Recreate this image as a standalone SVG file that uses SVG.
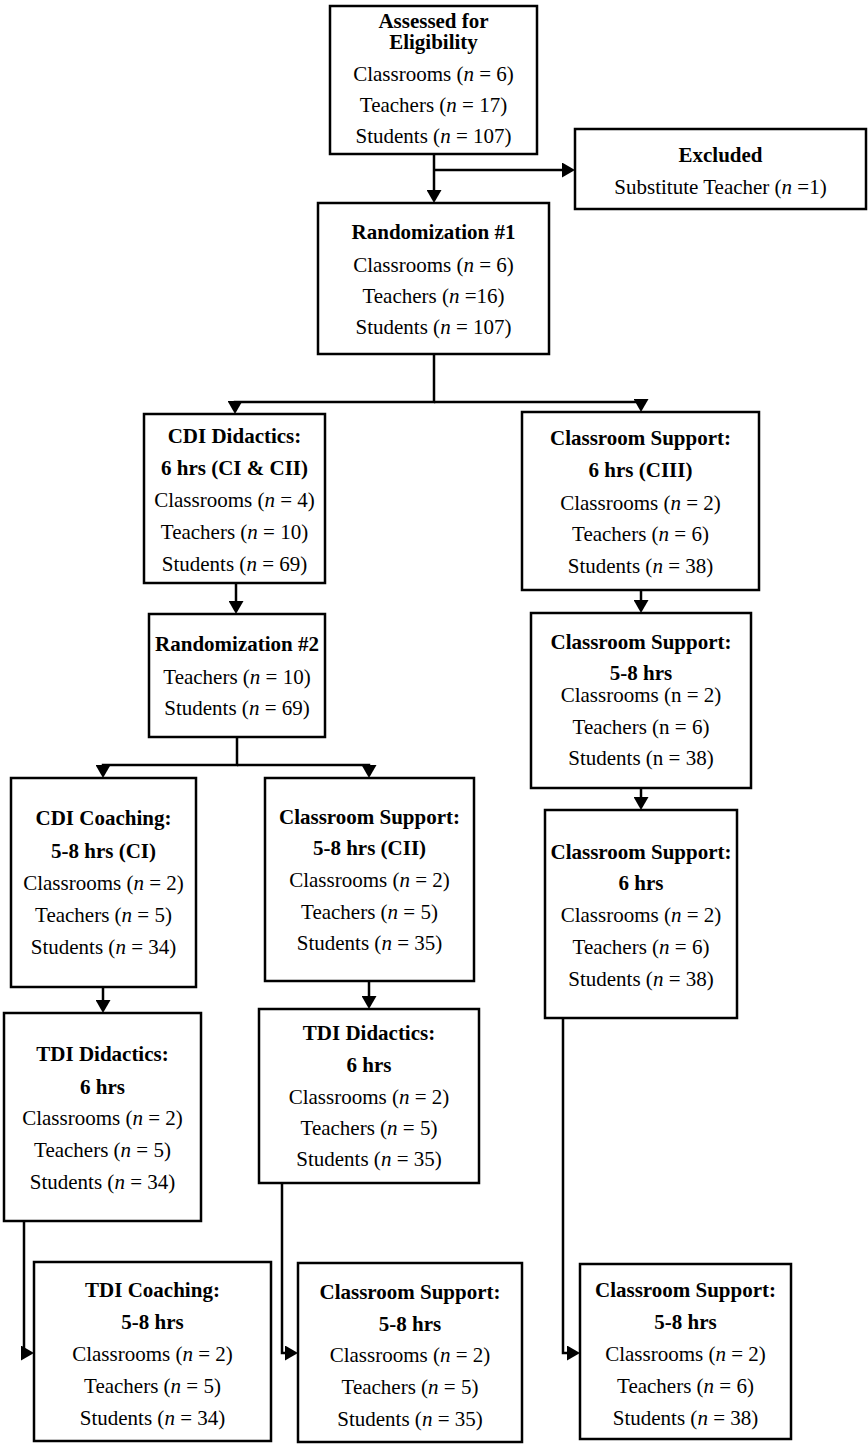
<svg xmlns="http://www.w3.org/2000/svg" width="868" height="1446" viewBox="0 0 868 1446">
<style>
.box{fill:#fff;stroke:#000;stroke-width:2.5}
.t{font-family:"Liberation Serif","Times New Roman",serif;font-size:21px;text-anchor:middle;fill:#000}
.b{font-weight:bold}
.i{font-style:italic}
.c{fill:none;stroke:#000;stroke-width:2.5}
</style>
<defs>
<marker id="ah" markerUnits="userSpaceOnUse" markerWidth="14" markerHeight="15" refX="5" refY="7.5" orient="auto" viewBox="0 0 14 15">
<path d="M0,0 L13,7.5 L0,15 z" fill="#000"/>
</marker>
</defs>
<rect width="868" height="1446" fill="#fff"/>
<g id="connectors">
<path class="c" d="M434,154 V195" marker-end="url(#ah)"/>
<path class="c" d="M434,170 H567" marker-end="url(#ah)"/>
<path class="c" d="M434,354 V402 H235 V406" marker-end="url(#ah)"/>
<path class="c" d="M434,402 H641 V404" marker-end="url(#ah)"/>
<path class="c" d="M236,583 V606" marker-end="url(#ah)"/>
<path class="c" d="M237,737 V765 H103 V770" marker-end="url(#ah)"/>
<path class="c" d="M237,765 H369 V770" marker-end="url(#ah)"/>
<path class="c" d="M103,987 V1005" marker-end="url(#ah)"/>
<path class="c" d="M369,981 V1001" marker-end="url(#ah)"/>
<path class="c" d="M24,1221 V1353 H26" marker-end="url(#ah)"/>
<path class="c" d="M282,1183 V1353 H290" marker-end="url(#ah)"/>
<path class="c" d="M641,590 V605" marker-end="url(#ah)"/>
<path class="c" d="M641,788 V802" marker-end="url(#ah)"/>
<path class="c" d="M563,1018 V1353 H572" marker-end="url(#ah)"/>
</g>
<g id="assessed">
<rect class="box" x="330" y="6" width="207" height="148"/>
<text class="t b" x="433.5" y="28">Assessed for</text>
<text class="t b" x="433.5" y="49">Eligibility</text>
<text class="t" x="433.5" y="81">Classrooms (<tspan class="i">n</tspan> = 6)</text>
<text class="t" x="433.5" y="112">Teachers (<tspan class="i">n</tspan> = 17)</text>
<text class="t" x="433.5" y="143">Students (<tspan class="i">n</tspan> = 107)</text>
</g>
<g id="excluded">
<rect class="box" x="575" y="129" width="291" height="80"/>
<text class="t b" x="720.5" y="162">Excluded</text>
<text class="t" x="720.5" y="194">Substitute Teacher (<tspan class="i">n</tspan> =1)</text>
</g>
<g id="rand1">
<rect class="box" x="318" y="203" width="231" height="151"/>
<text class="t b" x="433.5" y="239">Randomization #1</text>
<text class="t" x="433.5" y="272">Classrooms (<tspan class="i">n</tspan> = 6)</text>
<text class="t" x="433.5" y="303">Teachers (<tspan class="i">n</tspan> =16)</text>
<text class="t" x="433.5" y="334">Students (<tspan class="i">n</tspan> = 107)</text>
</g>
<g id="cdi-didactics">
<rect class="box" x="144" y="414" width="181" height="169"/>
<text class="t b" x="234.5" y="443">CDI Didactics:</text>
<text class="t b" x="234.5" y="475">6 hrs (CI &amp; CII)</text>
<text class="t" x="234.5" y="507">Classrooms (<tspan class="i">n</tspan> = 4)</text>
<text class="t" x="234.5" y="539">Teachers (<tspan class="i">n</tspan> = 10)</text>
<text class="t" x="234.5" y="571">Students (<tspan class="i">n</tspan> = 69)</text>
</g>
<g id="rand2">
<rect class="box" x="149" y="614" width="176" height="123"/>
<text class="t b" x="237" y="651">Randomization #2</text>
<text class="t" x="237" y="684">Teachers (<tspan class="i">n</tspan> = 10)</text>
<text class="t" x="237" y="715">Students (<tspan class="i">n</tspan> = 69)</text>
</g>
<g id="cdi-coaching">
<rect class="box" x="11" y="778" width="185" height="209"/>
<text class="t b" x="103.5" y="825">CDI Coaching:</text>
<text class="t b" x="103.5" y="858">5-8 hrs (CI)</text>
<text class="t" x="103.5" y="890">Classrooms (<tspan class="i">n</tspan> = 2)</text>
<text class="t" x="103.5" y="922">Teachers (<tspan class="i">n</tspan> = 5)</text>
<text class="t" x="103.5" y="954">Students (<tspan class="i">n</tspan> = 34)</text>
</g>
<g id="cs-cii">
<rect class="box" x="265" y="778" width="209" height="203"/>
<text class="t b" x="369.5" y="824">Classroom Support:</text>
<text class="t b" x="369.5" y="855">5-8 hrs (CII)</text>
<text class="t" x="369.5" y="887">Classrooms (<tspan class="i">n</tspan> = 2)</text>
<text class="t" x="369.5" y="919">Teachers (<tspan class="i">n</tspan> = 5)</text>
<text class="t" x="369.5" y="950">Students (<tspan class="i">n</tspan> = 35)</text>
</g>
<g id="tdi-didactics-1">
<rect class="box" x="4" y="1013" width="197" height="208"/>
<text class="t b" x="102.5" y="1061">TDI Didactics:</text>
<text class="t b" x="102.5" y="1094">6 hrs</text>
<text class="t" x="102.5" y="1125">Classrooms (<tspan class="i">n</tspan> = 2)</text>
<text class="t" x="102.5" y="1157">Teachers (<tspan class="i">n</tspan> = 5)</text>
<text class="t" x="102.5" y="1189">Students (<tspan class="i">n</tspan> = 34)</text>
</g>
<g id="tdi-didactics-2">
<rect class="box" x="259" y="1009" width="220" height="174"/>
<text class="t b" x="369" y="1040">TDI Didactics:</text>
<text class="t b" x="369" y="1072">6 hrs</text>
<text class="t" x="369" y="1104">Classrooms (<tspan class="i">n</tspan> = 2)</text>
<text class="t" x="369" y="1135">Teachers (<tspan class="i">n</tspan> = 5)</text>
<text class="t" x="369" y="1166">Students (<tspan class="i">n</tspan> = 35)</text>
</g>
<g id="tdi-coaching">
<rect class="box" x="34" y="1262" width="237" height="179"/>
<text class="t b" x="152.5" y="1297">TDI Coaching:</text>
<text class="t b" x="152.5" y="1329">5-8 hrs</text>
<text class="t" x="152.5" y="1361">Classrooms (<tspan class="i">n</tspan> = 2)</text>
<text class="t" x="152.5" y="1393">Teachers (<tspan class="i">n</tspan> = 5)</text>
<text class="t" x="152.5" y="1425">Students (<tspan class="i">n</tspan> = 34)</text>
</g>
<g id="cs-mid-bottom">
<rect class="box" x="298" y="1263" width="224" height="179"/>
<text class="t b" x="410" y="1299">Classroom Support:</text>
<text class="t b" x="410" y="1331">5-8 hrs</text>
<text class="t" x="410" y="1362">Classrooms (<tspan class="i">n</tspan> = 2)</text>
<text class="t" x="410" y="1394">Teachers (<tspan class="i">n</tspan> = 5)</text>
<text class="t" x="410" y="1426">Students (<tspan class="i">n</tspan> = 35)</text>
</g>
<g id="cs-ciii">
<rect class="box" x="522" y="412" width="237" height="178"/>
<text class="t b" x="640.5" y="445">Classroom Support:</text>
<text class="t b" x="640.5" y="477">6 hrs (CIII)</text>
<text class="t" x="640.5" y="510">Classrooms (<tspan class="i">n</tspan> = 2)</text>
<text class="t" x="640.5" y="541">Teachers (<tspan class="i">n</tspan> = 6)</text>
<text class="t" x="640.5" y="573">Students (<tspan class="i">n</tspan> = 38)</text>
</g>
<g id="cs-right-58">
<rect class="box" x="531" y="613" width="220" height="175"/>
<text class="t b" x="641" y="649">Classroom Support:</text>
<text class="t b" x="641" y="680">5-8 hrs</text>
<text class="t" x="641" y="702">Classrooms (n = 2)</text>
<text class="t" x="641" y="734">Teachers (n = 6)</text>
<text class="t" x="641" y="765">Students (n = 38)</text>
</g>
<g id="cs-right-6">
<rect class="box" x="545" y="810" width="192" height="208"/>
<text class="t b" x="641" y="859">Classroom Support:</text>
<text class="t b" x="641" y="890">6 hrs</text>
<text class="t" x="641" y="922">Classrooms (<tspan class="i">n</tspan> = 2)</text>
<text class="t" x="641" y="954">Teachers (<tspan class="i">n</tspan> = 6)</text>
<text class="t" x="641" y="986">Students (<tspan class="i">n</tspan> = 38)</text>
</g>
<g id="cs-right-bottom">
<rect class="box" x="580" y="1264" width="211" height="175"/>
<text class="t b" x="685.5" y="1297">Classroom Support:</text>
<text class="t b" x="685.5" y="1329">5-8 hrs</text>
<text class="t" x="685.5" y="1361">Classrooms (<tspan class="i">n</tspan> = 2)</text>
<text class="t" x="685.5" y="1393">Teachers (<tspan class="i">n</tspan> = 6)</text>
<text class="t" x="685.5" y="1425">Students (<tspan class="i">n</tspan> = 38)</text>
</g>
</svg>
